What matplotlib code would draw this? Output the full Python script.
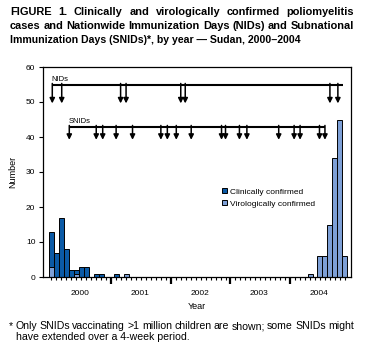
import matplotlib
matplotlib.use("Agg")
import matplotlib.pyplot as plt
from matplotlib.transforms import blended_transform_factory
import numpy as np

# ---------------- data ----------------
# month index 0 = Jan 2000 ... 59 = Dec 2004
months = list(range(60))
viro_vals = {0: 3, 5: 1, 15: 1, 52: 1, 54: 6, 55: 6, 56: 15, 57: 34, 58: 45, 59: 6}
clin_vals = {0: 10, 1: 7, 2: 17, 3: 8, 4: 2, 5: 1, 6: 3, 7: 3, 9: 1, 10: 1, 13: 1}
virologic = [viro_vals.get(m, 0) for m in months]
clinical = [clin_vals.get(m, 0) for m in months]

# campaign dates, in months from Jan 2000
nids = [0.66, 2.56, 14.4, 15.5, 26.5, 27.4, 56.5, 58.1]
snids = [4.08, 9.5, 10.8, 13.5, 16.8, 22.5, 23.8, 25.6, 28.6, 34.7, 35.5,
         38.3, 39.8, 46.2, 49.3, 50.5, 54.4, 55.5]
year_labels = ["2000", "2001", "2002", "2003", "2004"]
yticks = [0, 10, 20, 30, 40, 50, 60]

title_lines = [
    "FIGURE 1. Clinically and virologically confirmed poliomyelitis",
    "cases and Nationwide Immunization Days (NIDs) and Subnational",
    "Immunization Days (SNIDs)*, by year \u2014 Sudan, 2000\u20132004",
]
foot_lines = [
    "* Only SNIDs vaccinating >1 million children are shown; some SNIDs might",
    "have extended over a 4-week period.",
]

DARK = "#0b5aa6"
LIGHT = "#7d9fd6"

plt.rcParams['font.family'] = ['Liberation Sans', 'DejaVu Sans']

W, H = 367, 358
fig = plt.figure(figsize=(W / 100, H / 100), dpi=100)
L, R, T, B = 43, 351, 67, 277
ax = fig.add_axes([L / W, 1 - B / H, (R - L) / W, (B - T) / H])

ax.bar(months, virologic, width=1.0, align='edge', color=LIGHT,
       edgecolor='black', linewidth=0.7, label='Virologically confirmed')
ax.bar(months, clinical, width=1.0, align='edge', bottom=virologic, color=DARK,
       edgecolor='black', linewidth=0.7, label='Clinically confirmed')
for p in ax.patches:
    if p.get_height() == 0:
        p.set_visible(False)

ax.set_xlim(-1.207, 60.74)
ax.set_ylim(0, 60)
ax.set_yticks(yticks)
ax.tick_params(axis='y', length=3, width=0.8, pad=2.5, labelsize=6)

major = [12.5, 24.5, 36.5, 48.5]
minor = [m + 0.5 for m in months if (m + 0.5) not in major]
ax.set_xticks(major)
ax.set_xticklabels([])
ax.set_xticks(minor, minor=True)
ax.tick_params(axis='x', which='major', length=5, width=1.6)
ax.tick_params(axis='x', which='minor', length=2.3, width=0.8)
for s in ax.spines.values():
    s.set_linewidth(0.9)

trans = blended_transform_factory(ax.transData, ax.transAxes)
for i, lab in enumerate(year_labels):
    ax.text(6.3 + 12 * i, -(295 - 277) / 210, lab, transform=trans,
            ha='center', va='baseline', fontsize=6)

def draw_campaign(dates, line_y, tip_y, x_end, label, label_dy):
    ax.plot([dates[0], x_end], [line_y, line_y], color='black', lw=1.5,
            solid_capstyle='butt')
    for d in dates:
        ax.annotate('', xy=(d, tip_y), xytext=(d, line_y + 0.3),
                    arrowprops=dict(arrowstyle='-|>,head_length=0.5,head_width=0.25',
                                    color='black', lw=1.1, mutation_scale=6,
                                    shrinkA=0, shrinkB=0))
    ax.text(dates[0] - 0.2, line_y + label_dy, label, fontsize=5.5,
            ha='left', va='center')

draw_campaign(nids, 55, 49.6, 59.07, "NIDs", 1.5)
draw_campaign(snids, 43, 39.2, 55.6, "SNIDs", 1.5)

handles, labels = ax.get_legend_handles_labels()
leg = ax.legend(handles[::-1], labels[::-1], loc='upper left',
                bbox_to_anchor=((222) / W, 1 - 188 / H),
                bbox_transform=fig.transFigure, frameon=False, fontsize=6,
                handlelength=0.6, handleheight=0.6, handletextpad=0.4,
                labelspacing=0.55, borderpad=0, borderaxespad=0)

ax.set_ylabel("Number", fontsize=6.5, labelpad=6)
fig.text(197 / W, 1 - 309 / H, "Year", ha='center', va='baseline', fontsize=6.5)

renderer = fig.canvas.get_renderer()

def justified(line, x0, x1, yb, **kw):
    words = line.split(' ')
    texts = [fig.text(0, 1 - yb / H, w, ha='left', va='baseline', **kw) for w in words]
    widths = [t.get_window_extent(renderer).width for t in texts]
    gap = (x1 - x0 - sum(widths)) / max(len(words) - 1, 1)
    x = x0
    for t, w in zip(texts, widths):
        t.set_x(x / W)
        x += w + gap

TS = 7.9
justified(title_lines[0], 10, 354, 14.7, fontsize=TS, fontweight='bold')
justified(title_lines[1], 10, 354, 28.7, fontsize=TS, fontweight='bold')
fig.text(10 / W, 1 - 42.7 / H, title_lines[2], ha='left', va='baseline',
         fontsize=7.6, fontweight='bold')

FS = 7.6
justified(foot_lines[0], 9, 354, 329.3, fontsize=FS)
fig.text(16 / W, 1 - 340 / H, foot_lines[1], ha='left', va='baseline', fontsize=FS)

fig.savefig("out.png", dpi=100)
